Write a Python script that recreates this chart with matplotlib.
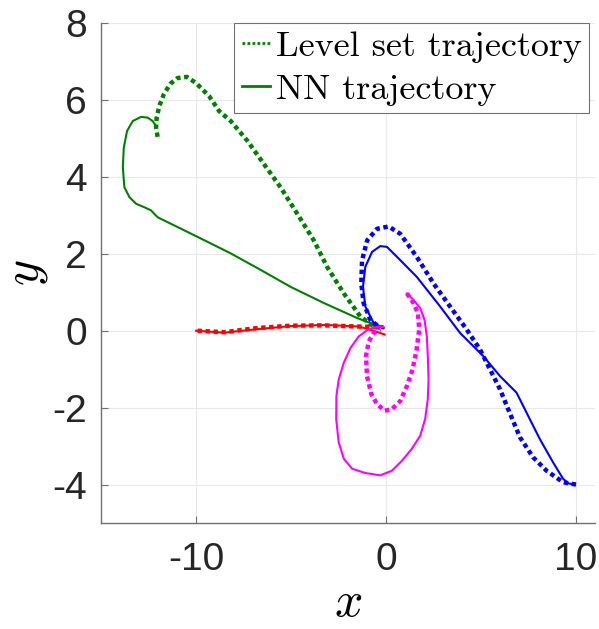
import numpy as np
import matplotlib
matplotlib.use('Agg')
import matplotlib.pyplot as plt

plt.rcParams['mathtext.fontset'] = 'cm'
plt.rcParams['axes.unicode_minus'] = False

# green: level set (dotted) and NN (solid)
green_ls_x = [-12.02, -12.1, -12.07, -11.93, -11.7, -11.35, -10.97, -10.48, -10.0, -9.31,
              -8.78, -8.17, -7.3, -6.42, -5.55, -4.67, -3.8, -3.1, -2.22, -1.35, -0.65, -0.13]
green_ls_y = [5.04, 5.28, 5.54, 5.84, 6.14, 6.42, 6.57, 6.6, 6.44, 6.1,
              5.71, 5.45, 4.94, 4.33, 3.73, 3.04, 2.35, 1.66, 0.97, 0.37, 0.11, 0.07]
green_nn_x = [-12.1, -12.28, -12.54, -12.89, -13.33, -13.63, -13.8, -13.85, -13.77, -13.5,
              -13.15, -12.72, -12.37, -12.02, -11.32, -10.7, -9.39, -8.17, -6.59, -5.02,
              -3.27, -1.52, -0.13]
green_nn_y = [5.32, 5.45, 5.54, 5.56, 5.45, 5.19, 4.76, 4.25, 3.73, 3.47,
              3.3, 3.21, 3.13, 2.95, 2.78, 2.63, 2.31, 2.01, 1.58, 1.14,
              0.72, 0.33, 0.07]

# red
red_ls_x = [-9.92, -8.52, -6.77, -5.02, -3.27, -1.52, -0.13]
red_ls_y = [0.0, -0.04, 0.07, 0.13, 0.14, 0.11, 0.09]
red_nn_x = [-10.0, -8.52, -6.77, -5.02, -3.18, -1.44, -0.73, -0.07]
red_nn_y = [0.0, -0.05, 0.04, 0.12, 0.15, 0.11, 0.01, -0.1]

# blue
blue_ls_x = [10.0, 9.32, 8.45, 7.74, 7.05, 6.43, 6.0, 5.48, 4.95, 4.25, 3.37, 2.5, 1.62,
             0.75, 0.14, -0.47, -0.99, -1.26, -1.3, -1.18, -0.82, -0.3]
blue_ls_y = [-4.0, -3.94, -3.64, -3.29, -2.77, -2.04, -1.52, -1.01, -0.49, 0.03, 0.63, 1.23, 1.92,
             2.52, 2.71, 2.65, 2.35, 1.83, 1.23, 0.72, 0.28, 0.07]
blue_nn_x = [9.95, 9.6, 9.32, 8.79, 8.1, 7.57, 6.87, 6.0, 5.12, 3.9, 2.85, 1.62, 0.58, 0.05,
             -0.3, -0.73, -1.09, -1.21, -1.09, -0.65, -0.13]
blue_nn_y = [-4.0, -3.97, -3.85, -3.42, -2.82, -2.3, -1.61, -1.18, -0.66, -0.06, 0.63, 1.4, 1.92, 2.18,
             2.2, 2.05, 1.66, 1.14, 0.63, 0.2, 0.07]

# magenta
mag_ls_x = [1.1, 1.45, 1.68, 1.75, 1.61, 1.4, 1.1, 0.75, 0.31, -0.07, -0.47, -0.77, -1.0,
            -1.05, -0.91, -0.65, -0.3]
mag_ls_y = [0.97, 0.72, 0.46, 0.03, -0.49, -1.01, -1.44, -1.83, -2.04, -2.08, -1.91, -1.65, -1.18,
            -0.66, -0.28, -0.06, 0.04]
mag_nn_x = [1.1, 1.45, 1.8, 2.03, 2.15, 2.2, 2.24, 2.2, 2.06, 1.8, 1.36, 0.84, 0.31, -0.3,
            -1.09, -1.78, -2.22, -2.49, -2.62, -2.61, -2.49, -2.22, -1.87, -1.44, -0.91, -0.39, -0.13]
mag_nn_y = [0.97, 0.8, 0.59, 0.28, -0.15, -0.66, -1.27, -1.78, -2.3, -2.73, -3.07, -3.38, -3.64, -3.76,
            -3.7, -3.59, -3.33, -2.9, -2.3, -1.7, -1.27, -0.83, -0.45, -0.15, 0.04, 0.11, 0.09]

xticks = [-10, 0, 10]
yticks = [-4, -2, 0, 2, 4, 6, 8]

fig = plt.figure(figsize=(5.99, 6.29), dpi=100)
ax = fig.add_axes([0.1686, 0.1685, 0.8247, 0.7949])

dot = (0, (1, 0.8))
lw_dot = 3.2
lw_sol = 1.5
ax.plot(green_ls_x, green_ls_y, color='#008000', lw=lw_dot, ls=dot, label='Level set trajectory')
ax.plot(green_nn_x, green_nn_y, color='#008000', lw=lw_sol, label='NN trajectory')
ax.plot(red_ls_x, red_ls_y, color='#ff0000', lw=lw_dot, ls=dot)
ax.plot(red_nn_x, red_nn_y, color='#ff0000', lw=lw_sol)
ax.plot(blue_ls_x, blue_ls_y, color='#0000ff', lw=lw_dot, ls=dot)
ax.plot(blue_nn_x, blue_nn_y, color='#0000ff', lw=lw_sol)
ax.plot(mag_ls_x, mag_ls_y, color='#ff00ff', lw=lw_dot, ls=dot)
ax.plot(mag_nn_x, mag_nn_y, color='#ff00ff', lw=lw_sol)

ax.set_xlim(-15, 11)
ax.set_ylim(-5, 8)
ax.set_xticks(xticks)
ax.set_yticks(yticks)
ax.set_xticklabels([str(t) for t in xticks], fontfamily='Liberation Sans', fontsize=28, color='#262626')
ax.set_yticklabels([str(t) for t in yticks], fontfamily='Liberation Sans', fontsize=28, color='#262626')
ax.tick_params(direction='in', length=5, width=0.8, color='#707070')
ax.tick_params(axis='x', pad=14)
ax.tick_params(axis='y', pad=10)
ax.grid(True, color='#e8e8e8', lw=0.8)
ax.set_axisbelow(True)
for s in ['top', 'right']:
    ax.spines[s].set_visible(False)
for s in ['left', 'bottom']:
    ax.spines[s].set_color('#707070')
    ax.spines[s].set_linewidth(1.0)

ax.set_xlabel('$x$', fontsize=36, labelpad=0)
ax.set_ylabel('$y$', fontsize=36, labelpad=2)

leg = ax.legend(loc='upper right', bbox_to_anchor=(0.988, 1.0), prop={'family': 'cmr10', 'size': 26},
                handlelength=0.8, handletextpad=0.15, borderpad=0.2, labelspacing=0.3,
                borderaxespad=0.0, fancybox=False, framealpha=1.0)
leg.get_frame().set_edgecolor('#707070')
leg.get_frame().set_linewidth(0.8)
for h in leg.get_lines():
    h.set_linewidth(2.0)

fig.savefig('out.png', dpi=100)
